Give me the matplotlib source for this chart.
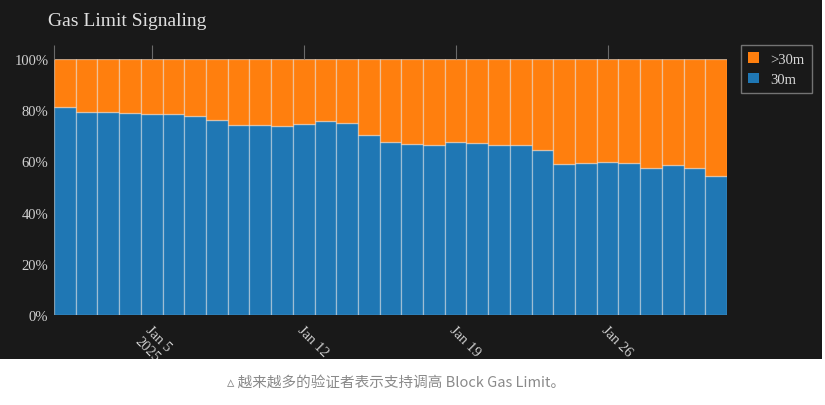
import matplotlib
matplotlib.use("Agg")
import matplotlib.pyplot as plt
from matplotlib.patches import Rectangle
import numpy as np
import pandas as pd

# dados (fração de validadores sinalizando 30m)
dias = pd.date_range("2025-01-01", "2025-01-31", freq="D")
pct_30m = [81.1, 79.2, 79.4, 78.8, 78.5, 78.6, 77.7, 76.3, 74.2, 74.2,
           73.9, 74.5, 75.9, 74.9, 70.4, 67.4, 66.9, 66.4, 67.4, 67.2,
           66.5, 66.5, 64.6, 59.0, 59.2, 59.6, 59.5, 57.5, 58.5, 57.5, 54.2]
pct_acima = [100 - v for v in pct_30m]
rotulos_x = ["Jan 5\n2025", "Jan 12", "Jan 19", "Jan 26"]
ticks_x = pd.to_datetime(["2025-01-05", "2025-01-12", "2025-01-19", "2025-01-26"])
ticks_y = [0, 20, 40, 60, 80, 100]

fundo = "#191919"
azul = "#1f77b4"
laranja = "#ff7f0e"
borda = (1, 1, 1, 0.45)
fonte = "Liberation Serif"

fig = plt.figure(figsize=(8.25, 4.06), dpi=100)
fig.patch.set_facecolor("white")
# painel escuro
fig.add_artist(Rectangle((0, 0), 822 / 825, 1, transform=fig.transFigure,
                         facecolor=fundo, edgecolor="none", zorder=-5))

ax = fig.add_axes([54 / 825, 1 - 316 / 406, 673 / 825, 256 / 406])
ax.set_facecolor(fundo)

ax.bar(dias, pct_30m, width=1, color=azul, edgecolor=borda, linewidth=0.9, label="30m")
ax.bar(dias, pct_acima, width=1, bottom=pct_30m, color=laranja, edgecolor=borda,
       linewidth=0.9, label=">30m")

ax.set_xlim(dias[0] - pd.Timedelta(hours=12), dias[-1] + pd.Timedelta(hours=12))
ax.set_ylim(0, 100)

ax.set_yticks(ticks_y)
ax.set_yticklabels([f"{v}%" for v in ticks_y], fontfamily=fonte, fontsize=10.5, color="#d0d0d0")
ax.tick_params(axis="y", length=0, pad=4)

ax.set_xticks(ticks_x)
ax.set_xticks([dias[0] - pd.Timedelta(hours=12)], minor=True)
ax.set_xticklabels(rotulos_x, fontfamily=fonte, fontsize=10.5, color="#d0d0d0",
                   rotation=-45, ha="left", va="top", rotation_mode="anchor")
ax.tick_params(axis="x", which="both", bottom=False, top=True, labelbottom=True,
               labeltop=False, direction="out", length=10, width=0.8, color="#6a6a6a", pad=-4)

for s in ax.spines.values():
    s.set_visible(False)

# legenda
h, l = ax.get_legend_handles_labels()
leg = fig.legend(h[::-1], l[::-1], loc="upper left", bbox_to_anchor=(741 / 825, 1 - 46 / 406),
                 frameon=True, fancybox=False, facecolor=fundo, edgecolor="#8a8a8a",
                 prop={"family": fonte, "size": 10.5}, handlelength=0.7, handleheight=0.7,
                 borderpad=0.5, labelspacing=0.5, handletextpad=0.8, borderaxespad=0)
leg.get_frame().set_linewidth(1.0)
for t in leg.get_texts():
    t.set_color("#d8d8d8")
for p in leg.legend_handles:
    p.set_edgecolor("none")

fig.text(48 / 825, 1 - 21 / 406, "Gas Limit Signaling", fontfamily=fonte, fontsize=14,
         color="#e0e0e0", ha="left", va="center")

# faixa branca com a legenda da imagem
fig.add_artist(Rectangle((0, 0), 1, 1 - 360 / 406, transform=fig.transFigure,
                         facecolor="white", edgecolor="none", zorder=10))
fig.text(227 / 825, 1 - 383 / 406, "▵ 越来越多的验证者表示支持调高 Block Gas Limit。",
         family=["Noto Sans CJK SC", "DejaVu Sans"], fontsize=10.5, color="#8a8a8a",
         ha="left", va="center", zorder=11)

fig.savefig("out.png", dpi=100, facecolor=fig.get_facecolor())
